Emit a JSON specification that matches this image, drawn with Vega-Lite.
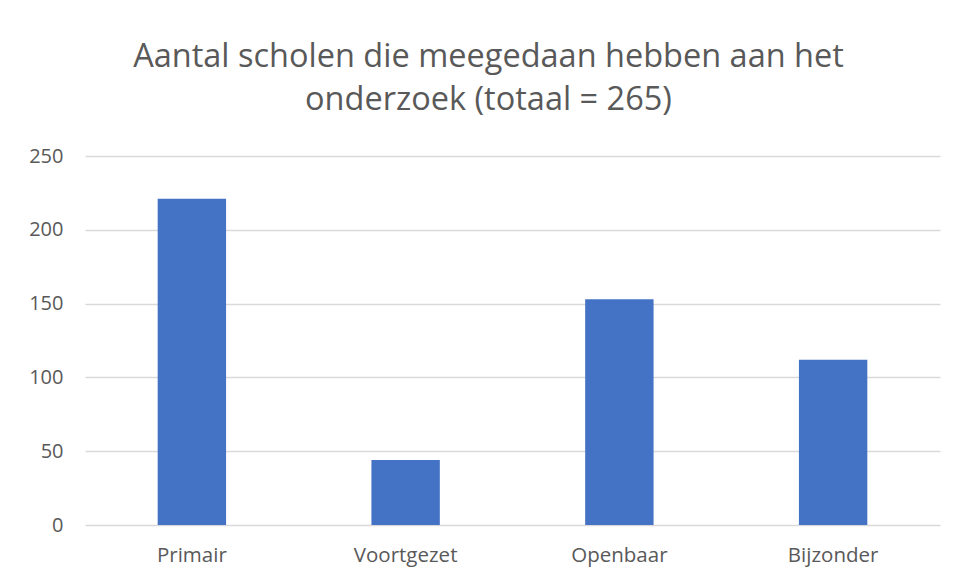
{
  "$schema": "https://vega.github.io/schema/vega-lite/v6.json",
  "width": 855,
  "height": 369,
  "autosize": {"type": "none"},
  "padding": {"left": 85, "top": 156, "right": 17, "bottom": 54},
  "background": "white",
  "title": {
    "text": ["Aantal scholen die meegedaan hebben aan het", "onderzoek (totaal = 265)"],
    "font": "Open Sans",
    "fontSize": 32.5,
    "fontWeight": "normal",
    "color": "#595959",
    "lineHeight": 43,
    "anchor": "middle",
    "frame": "group",
    "dx": -24,
    "offset": 30
  },
  "data": {
    "values": [
      {"categorie": "Primair", "aantal": 221},
      {"categorie": "Voortgezet", "aantal": 44},
      {"categorie": "Openbaar", "aantal": 153},
      {"categorie": "Bijzonder", "aantal": 112}
    ]
  },
  "mark": {"type": "bar", "color": "#4472C4"},
  "encoding": {
    "x": {
      "field": "categorie",
      "type": "nominal",
      "sort": null,
      "title": null,
      "scale": {"paddingInner": 0.68, "paddingOuter": 0.34},
      "axis": {
        "labelAngle": 0,
        "labelFont": "Open Sans",
        "labelFontSize": 20.5,
        "labelColor": "#595959",
        "labelPadding": 20,
        "domain": false,
        "ticks": false,
        "grid": false
      }
    },
    "y": {
      "field": "aantal",
      "type": "quantitative",
      "title": null,
      "scale": {"domain": [0, 250], "nice": false},
      "axis": {
        "values": [0, 50, 100, 150, 200, 250],
        "labelFont": "Open Sans",
        "labelFontSize": 20,
        "labelColor": "#595959",
        "labelPadding": 22,
        "domain": false,
        "ticks": false,
        "gridColor": "#D9D9D9",
        "gridWidth": 1.3
      }
    }
  },
  "config": {"view": {"stroke": null}}
}
